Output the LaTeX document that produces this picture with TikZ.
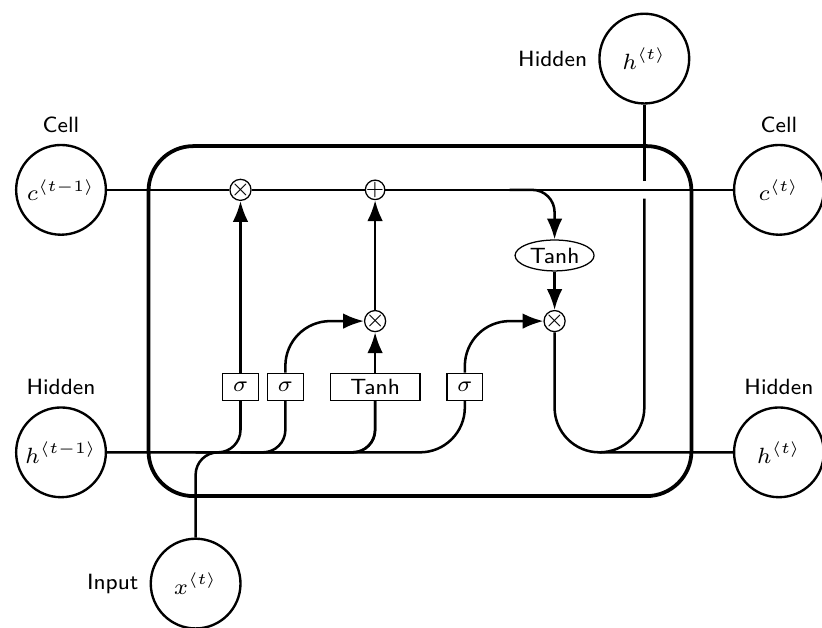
\documentclass[tikz,border=0pt]{standalone}
\usetikzlibrary{arrows.meta,shapes.geometric}
\newcommand{\emptx}[2]{$#1^{\langle #2 \rangle}$}
\begin{document}
\begin{tikzpicture}[
    y=0.975cm,
    font=\sffamily\scriptsize,
    >=LaTeX,
    cellbox/.style={rectangle, rounded corners=5mm, draw, very thick},
    opnode/.style={circle, draw, inner sep=-0.5pt, minimum height=.2cm},
    funcnode/.style={ellipse, draw, inner sep=1pt},
    ct/.style={circle, draw, line width=.75pt, minimum width=1cm, inner sep=1pt},
    gt/.style={rectangle, draw, minimum width=4mm, minimum height=3mm, inner sep=1pt},
    mylabel/.style={font=\scriptsize\sffamily},
    ArrowCa/.style={rounded corners=.25cm, thick},
    ArrowCb/.style={rounded corners=.5cm, thick},
  ]
  \useasboundingbox (-4.68,-3.50) rectangle (4.48,3.67);

  \node [cellbox, minimum height=3.9cm, minimum width=6.05cm] (cell) at (0,0) {};

  \node [gt] (ibox1) at (-2,-0.75) {$\sigma$};
  \node [gt] (ibox2) at (-1.5,-0.75) {$\sigma$};
  \node [gt, minimum width=1cm] (ibox3) at (-0.5,-0.75) {Tanh};
  \node [gt] (ibox4) at (0.5,-0.75) {$\sigma$};

  \node [opnode] (mux1) at (-2,1.5) {$\times$};
  \node [opnode] (add1) at (-0.5,1.5) {+};
  \node [opnode] (mux2) at (-0.5,0) {$\times$};
  \node [opnode] (mux3) at (1.5,0) {$\times$};
  \node [funcnode] (func1) at (1.5,0.75) {Tanh};

  \node [ct, label={[mylabel]Cell}] (c) at (-4,1.5) {\emptx{c}{t-1}};
  \node [ct, label={[mylabel]Hidden}] (h) at (-4,-1.5) {\emptx{h}{t-1}};
  \node [ct, label={[mylabel]left:Input}] (x) at (-2.5,-3) {\emptx{x}{t}};

  \node [ct, label={[mylabel]Cell}] (c2) at (4,1.5) {\emptx{c}{t}};
  \node [ct, label={[mylabel]Hidden}] (h2) at (4,-1.5) {\emptx{h}{t}};
  \node [ct, label={[mylabel]left:Hidden}] (x2) at (2.5,3) {\emptx{h}{t}};

  \coordinate (s1) at (-2.5,-1.5);
  \coordinate (s2) at (-2,-1.5);
  \coordinate (s3) at (-1,-1.5);
  \coordinate (s4) at (1,1.5);
  \coordinate (i1) at (2.5,1.4);
  \coordinate (i2) at (2.5,1.6);
  \coordinate (s5) at (2,-1.5);

  \draw [ArrowCa] (c) -- (mux1) -- (add1) -- (c2);

  \draw [ArrowCb] (h) -| (ibox4);
  \draw [ArrowCa] (s1) -| (ibox1);
  \draw [ArrowCa] (s2) -| (ibox2);
  \draw [ArrowCa] (s3) -| (ibox3);
  \draw [ArrowCa] (x) -- (x |- h) -| (ibox3);

  \draw [->, ArrowCb] (ibox1) -- (mux1);
  \draw [->, ArrowCb] (ibox2) |- (mux2);
  \draw [->, ArrowCb] (ibox3) -- (mux2);
  \draw [->, ArrowCb] (ibox4) |- (mux3);
  \draw [->, ArrowCb] (mux2) -- (add1);
  \draw [->, ArrowCa] (s4) -| (func1);
  \draw [->, ArrowCb] (func1) -- (mux3);

  \draw [ArrowCb] (mux3) |- (h2);
  \draw [ArrowCb] (s5) -| (i1);
  \draw [ArrowCb] (i2) -- (x2);
\end{tikzpicture}
\end{document}
